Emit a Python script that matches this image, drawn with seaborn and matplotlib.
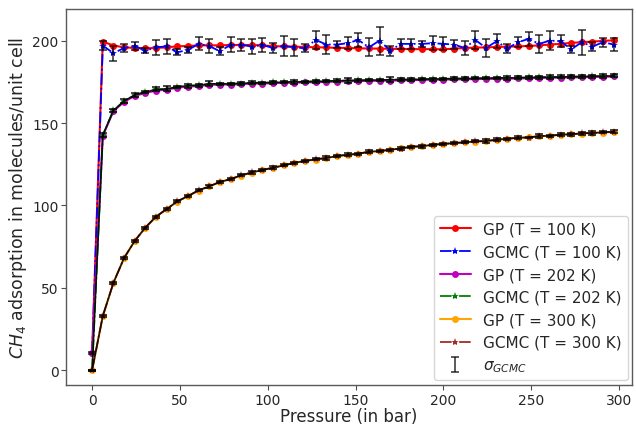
import numpy as np
import pandas as pd
import matplotlib
matplotlib.use("Agg")
import matplotlib.pyplot as plt
import seaborn as sns

# ---------------- data ----------------
pressure = np.linspace(0, 297, 50)

gp_100 = [10.5, 199.6, 197.2, 196.1, 195.7, 195.5, 195.7, 196.1, 196.7, 196.9, 197.3, 197.3, 197.3, 197.5, 197.5, 197.5, 197.3,
          196.8, 196.7, 196.5, 196.3, 196.1, 196.0, 195.8, 195.7, 195.5, 195.4, 195.3, 195.2, 195.1, 195.0, 195.0, 195.0,
          194.9, 195.3, 195.7, 195.9, 196.1, 196.3, 196.5, 196.7, 196.9, 197.3, 197.8, 198.2, 198.8, 199.2, 199.6, 200.0, 200.4]
gcmc_100 = [10.5, 197.2, 192.5, 195.7, 196.9, 194.1, 196.1, 196.7, 193.1, 194.5, 198.2, 196.9, 193.7, 197.6, 197.6, 196.6, 197.5,
            195.7, 196.9, 196.1, 195.5, 200.6, 197.8, 197.8, 198.6, 200.6, 196.1, 200.2, 194.1, 198.2, 198.2, 198.2, 198.6,
            198.2, 197.8, 195.7, 200.6, 195.7, 199.8, 195.3, 199.2, 201.2, 198.2, 200.2, 199.8, 194.9, 199.2, 196.6, 199.2, 197.8]
err_100 = [0.5, 3.0, 4.5, 2.7, 2.5, 1.6, 4.5, 4.5, 1.7, 2.0, 4.0, 4.3, 2.5, 4.5, 3.8, 4.8, 4.5,
           3.0, 6.0, 5.0, 2.5, 5.3, 5.5, 2.3, 3.8, 4.2, 5.5, 8.5, 3.0, 3.0, 3.0, 2.0, 4.3,
           4.0, 2.5, 4.2, 5.5, 5.5, 4.3, 2.8, 3.2, 4.3, 5.5, 5.8, 3.7, 2.3, 7.5, 3.0, 2.6, 4.2]

gp_202 = [10.5, 142.4, 157.3, 163.0, 166.6, 168.4, 169.8, 170.4, 171.6, 172.2, 172.6, 173.3, 173.5, 173.5, 173.7, 174.1, 174.1, 174.3, 174.5,
          174.6, 174.8, 174.9, 175.1, 175.3, 175.5, 175.6, 175.7, 175.8, 175.9, 176.0, 176.1, 176.3, 176.4, 176.5, 176.6,
          176.7, 176.8, 176.9, 177.0, 177.1, 177.2, 177.3, 177.5, 177.6, 177.7, 177.8, 177.9, 178.1, 178.2, 178.4]
gcmc_202 = [0.0, 142.6, 157.8, 163.4, 167.2, 168.9, 170.5, 170.8, 172.1, 172.8, 173.0, 173.9, 173.9, 174.0, 174.1, 174.6, 174.5, 174.8, 174.9,
            175.1, 175.2, 175.4, 175.5, 175.8, 175.9, 176.0, 176.2, 176.2, 176.4, 176.5, 176.5, 176.8, 176.8, 176.9, 177.1,
            177.1, 177.3, 177.3, 177.5, 177.5, 177.6, 177.8, 177.9, 178.0, 178.1, 178.3, 178.3, 178.5, 178.6, 178.8]
err_202 = [0.3, 1.2, 1.0, 1.0, 1.0, 0.8, 1.2, 1.5, 0.8, 1.3, 0.8, 1.5, 0.8, 0.7, 0.7, 1.0, 0.7, 0.7, 0.7,
           1.2, 0.6, 1.0, 0.7, 0.8, 1.3, 0.7, 0.6, 0.8, 1.5, 0.7, 0.8, 0.7, 0.9, 0.7, 0.8,
           1.0, 0.7, 0.6, 0.8, 1.2, 0.8, 0.7, 0.8, 1.0, 0.9, 0.7, 1.0, 0.8, 1.2, 0.9]

gp_300 = [0.0, 32.6, 53.1, 67.9, 78.6, 86.5, 93.0, 97.9, 102.3, 105.8, 109.0, 111.7, 114.1, 116.1, 118.1, 120.0, 121.6, 122.8, 124.4,
          125.8, 127.1, 127.9, 128.9, 129.9, 130.7, 131.5, 132.5, 133.1, 133.7, 134.7, 135.6, 136.0, 136.8, 137.4, 137.8,
          138.4, 138.8, 139.2, 139.8, 140.6, 141.0, 141.4, 142.0, 142.4, 142.9, 143.3, 143.7, 144.1, 144.3, 144.7]
gcmc_300 = [0.0, 32.8, 53.0, 68.1, 78.4, 86.6, 93.2, 97.8, 102.5, 105.7, 109.2, 111.6, 114.3, 116.0, 118.3, 120.1, 121.5, 123.0, 124.3,
            126.0, 127.0, 128.1, 128.8, 130.1, 130.8, 131.4, 132.7, 133.0, 133.9, 134.6, 135.8, 135.9, 137.0, 137.3, 138.0,
            138.3, 139.0, 139.1, 140.0, 140.5, 141.2, 141.3, 142.2, 142.3, 143.1, 143.2, 143.9, 144.0, 144.5, 144.8]
err_300 = [0.3, 0.8, 0.7, 0.6, 0.7, 0.6, 0.7, 0.8, 0.6, 0.7, 0.6, 0.8, 0.6, 0.7, 0.6, 0.7, 0.8, 1.0, 0.6,
           0.7, 0.8, 0.7, 1.0, 0.7, 0.8, 0.7, 0.8, 0.6, 0.7, 0.9, 0.6, 0.7, 0.6, 0.7, 0.8,
           0.6, 0.7, 1.0, 0.7, 0.6, 0.8, 0.6, 1.1, 0.7, 0.8, 1.0, 0.8, 1.0, 0.7, 0.8]

x_ticks = [0, 50, 100, 150, 200, 250, 300]
y_ticks = [0, 50, 100, 150, 200]

# ---------------- plot ----------------
sns.set_style("ticks")
plt.rcParams['font.family'] = ['DejaVu Sans']

fig, ax = plt.subplots(figsize=(6.36, 4.27), dpi=100)
fig.subplots_adjust(left=0.104, right=0.994, bottom=0.096, top=0.977)

gp_kw = dict(marker='o', markersize=5, linewidth=1.5, markeredgewidth=0)
gc_kw = dict(marker='*', markersize=6, linewidth=1.3, linestyle='-.', markeredgewidth=0)

sns.lineplot(x=pressure, y=gp_100, color='red', label='GP (T = 100 K)', ax=ax, **gp_kw)
sns.lineplot(x=pressure, y=gcmc_100, color='blue', label='GCMC (T = 100 K)', ax=ax, **gc_kw)
sns.lineplot(x=pressure, y=gp_202, color='m', label='GP (T = 202 K)', ax=ax, **gp_kw)
sns.lineplot(x=pressure, y=gcmc_202, color='green', label='GCMC (T = 202 K)', ax=ax, **gc_kw)
sns.lineplot(x=pressure, y=gp_300, color='orange', label='GP (T = 300 K)', ax=ax, **gp_kw)
sns.lineplot(x=pressure, y=gcmc_300, color='brown', label='GCMC (T = 300 K)', ax=ax, **gc_kw)

ax.errorbar(pressure, gcmc_100, yerr=err_100, fmt='none', ecolor='k', elinewidth=1.2,
            capsize=3, capthick=1.2, alpha=0.75, label=r'$\sigma_{GCMC}$', zorder=4)
ax.errorbar(pressure, gcmc_202, yerr=err_202, fmt='-', color='k', ecolor='k', linewidth=1.2,
            elinewidth=1.2, capsize=3, capthick=1.2, alpha=0.85, zorder=4)
ax.errorbar(pressure, gcmc_300, yerr=err_300, fmt='-', color='k', ecolor='k', linewidth=1.2,
            elinewidth=1.2, capsize=3, capthick=1.2, alpha=0.85, zorder=4)

ax.set_xlim(-14.8, 307.5)
ax.set_ylim(-9.1, 219.5)
ax.set_xticks(x_ticks)
ax.set_yticks(y_ticks)
ax.tick_params(labelsize=10, direction='out', length=3.5, pad=2, color='0.3')
for s in ax.spines.values():
    s.set_color('0.35')
    s.set_linewidth(1.0)

ax.set_xlabel('Pressure (in bar)', fontsize=12, labelpad=0)
ax.set_ylabel('$CH_4$ adsorption in molecules/unit cell', fontsize=12.5, labelpad=2)

handles, labels = ax.get_legend_handles_labels()
order = ['GP (T = 100 K)', 'GCMC (T = 100 K)', 'GP (T = 202 K)', 'GCMC (T = 202 K)',
         'GP (T = 300 K)', 'GCMC (T = 300 K)', r'$\sigma_{GCMC}$']
hmap = dict(zip(labels, handles))
ax.legend([hmap[l] for l in order], order, loc='lower right', fontsize=11,
          frameon=True, framealpha=0.8, borderaxespad=0.3)

fig.savefig('out.png', dpi=100)
